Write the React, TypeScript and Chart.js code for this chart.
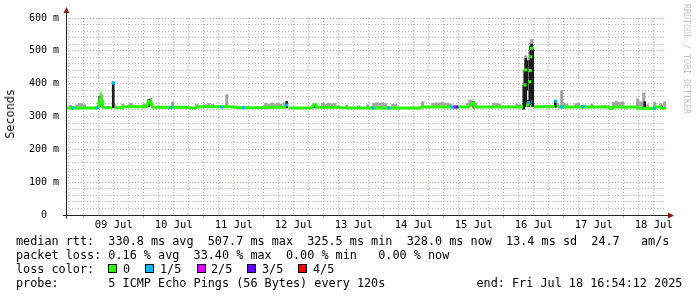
import React, { useEffect, useRef } from "react";
import { Chart, registerables } from "chart.js";

Chart.register(...registerables);

// x values: hours since 08 Jul 00:00
const dayLabels = ["09 Jul", "10 Jul", "11 Jul", "12 Jul", "13 Jul", "14 Jul", "15 Jul", "16 Jul", "17 Jul", "18 Jul"];

const medianHours = [17.2, 19.6, 29.2, 30.0, 30.4, 30.8, 31.2, 31.6, 35.2, 35.6, 36.4, 39.6, 40.0, 49.2, 49.6, 50.0, 50.8, 51.2, 51.6, 66.0, 66.4, 68.8, 69.2, 76.4, 85.2, 85.6, 96.4, 96.8, 104.8, 105.2, 106.0, 115.2, 116.0, 116.8, 117.2, 126.8, 127.2, 136.4, 158.8, 159.2, 178.0, 178.8, 179.6, 180.0, 180.4, 199.6, 200.0, 204.0, 212.4, 212.8, 213.6, 234.4, 234.8, 235.6, 236.0, 240.4, 240.8, 241.2, 245.2, 245.6, 249.2, 250.0, 252.4, 252.8, 254.8, 255.2, 256.8];
const medianMs = [326, 326, 326, 330, 345, 358, 340, 328, 327, null, 327, 327, 330, 330, 340, 347, 345, 333, 328, 328, 326, 326, 330, 330, 329, 327, 327, 328, 328, null, 326, 326, 336, 336, 328, 328, 327, 326, 326, 329, 329, 335, 341, 341, 329, 329, null, 330, 330, null, 329, 329, 324, 324, 329, 329, 326, 329, 329, 325, 325, 324, 324, 329, 329, 325, 325];

const lossHours = [19.6, 29.2, 35.8, 58.8, 79.2, 88.0, 105.2, 139.6, 146.0, 171.2, 172.4, 173.2, 202.0, 212.8, 215.2, 223.6, 252.4, 200.5, 200.8, 201.6, 202.4, 202.6, 202.8, 203.1];
const lossMs = [326, 326, 402, 328, 329, 327, 335, 326, 326, 329, 329, 329, 342, 347, 329, 330, 324, 396, 442, 335, 406, 440, 482, 508];
const lossLevel = [1, 1, 1, 1, 1, 1, 1, 1, 1, 1, 2, 3, 1, 1, 1, 1, 1, 0, 0, 0, 0, 0, 0, 0];

const darkHours = [30.4, 30.8, 35.8, 50.0, 50.4, 105.2, 116.4, 180.0, 200.0, 200.4, 200.8, 201.2, 201.6, 202.0, 202.4, 202.8, 203.2, 203.6, 212.6, 223.6, 248.4, 255.2];
const darkLow = [330, 335, 327, 330, 335, 327, 326, 326, 322, 330, 345, 380, 330, 330, 335, 350, 380, 330, 328, 326, 325, 325];
const darkHigh = [362, 360, 405, 352, 350, 346, 337, 345, 396, 440, 478, 470, 350, 345, 470, 515, 520, 505, 347, 334, 345, 332];

const smokeHours = [18.8, 21.2, 22.4, 23.2, 24.4, 30.0, 31.2, 31.6, 36.4, 39.6, 42.4, 43.2, 48.0, 48.8, 50.8, 59.6, 69.2, 72.4, 74.0, 75.6, 81.2, 96.8, 98.0, 99.2, 100.4, 101.6, 102.8, 104.4, 119.6, 120.8, 122.0, 123.2, 124.4, 129.2, 134.0, 137.6, 140.0, 141.2, 142.4, 143.6, 144.8, 147.6, 148.8, 159.6, 163.6, 164.8, 166.0, 167.2, 168.4, 169.6, 170.8, 177.6, 178.4, 179.2, 180.8, 188.0, 189.2, 190.4, 194.0, 197.2, 198.4, 200.8, 202.4, 202.8, 203.2, 210.0, 213.6, 215.2, 216.0, 217.2, 220.8, 222.0, 224.4, 227.2, 230.8, 232.4, 236.0, 237.2, 238.4, 239.6, 245.6, 246.8, 248.0, 249.6, 252.4, 254.8, 256.4];
const smokeLow = [328, 328, 328, 328, 328, 328, 330, 328, 328, 328, 330, 330, 330, 330, 340, 328, 330, 330, 330, 330, 329, 328, 328, 328, 328, 328, 328, 328, 328, 328, 328, 328, 328, 327, 327, 326, 326, 326, 326, 326, 326, 326, 326, 329, 329, 329, 329, 329, 329, 329, 329, 329, 335, 338, 329, 329, 329, 329, 329, 329, 329, 440, 440, 500, 500, 330, 329, 329, 329, 329, 329, 329, 329, 329, 329, 329, 329, 329, 329, 329, 325, 325, 325, 325, 324, 325, 325];
const smokeHigh = [334, 336, 340, 339, 336, 345, 365, 348, 336, 338, 338, 340, 338, 337, 356, 345, 338, 336, 340, 337, 367, 340, 338, 341, 339, 340, 338, 342, 340, 338, 341, 339, 340, 335, 333, 336, 340, 342, 341, 342, 339, 337, 338, 345, 340, 342, 341, 343, 340, 341, 338, 340, 350, 350, 340, 341, 340, 338, 334, 338, 336, 485, 500, 525, 535, 335, 340, 379, 340, 338, 339, 340, 335, 338, 333, 334, 344, 346, 343, 345, 354, 345, 372, 336, 344, 340, 345];

const lossColors = ["#26ff00", "#00b8ff", "#dd00ff", "#5e00ff", "#ff0000"];
const lossLabels = ["0", "1/5", "2/5", "3/5", "4/5"];

const statLines = [
  "median rtt:  330.8 ms avg  507.7 ms max  325.5 ms min  328.0 ms now  13.4 ms sd  24.7   am/s",
  "packet loss: 0.16 % avg  33.40 % max  0.00 % min   0.00 % now",
  "loss color:",
  "probe:       5 ICMP Echo Pings (56 Bytes) every 120s",
];
const endText = "end: Fri Jul 18 16:54:12 2025";

const MONO = '"DejaVu Sans Mono", monospace';

const axesPlugin = {
  id: "rrdAxes",
  afterDraw(chart: any) {
    const { ctx, chartArea } = chart;
    const { left, right, top, bottom } = chartArea;
    const lx = Math.round(left) + 0.5;
    const by = Math.round(bottom) + 0.5;
    ctx.save();
    ctx.strokeStyle = "#222222";
    ctx.lineWidth = 1;
    ctx.beginPath();
    ctx.moveTo(lx, by + 3);
    ctx.lineTo(lx, top - 6);
    ctx.moveTo(left - 3, by);
    ctx.lineTo(right + 3, by);
    ctx.stroke();
    ctx.fillStyle = "#8f1a1a";
    ctx.beginPath();
    ctx.moveTo(lx - 3, top - 5);
    ctx.lineTo(lx + 3, top - 5);
    ctx.lineTo(lx, top - 11);
    ctx.closePath();
    ctx.fill();
    ctx.beginPath();
    ctx.moveTo(right + 2, by - 3);
    ctx.lineTo(right + 2, by + 3);
    ctx.lineTo(right + 8, by);
    ctx.closePath();
    ctx.fill();
    ctx.restore();
  },
};

export default function App() {
  const ref = useRef<HTMLCanvasElement>(null);

  useEffect(() => {
    const median = medianHours.map((h, i) => ({ x: h, y: medianMs[i] }));
    const loss = lossHours.map((h, i) => ({ x: h, y: lossMs[i] }));
    const dark = darkHours.map((h, i) => ({ x: h, y: [darkLow[i], darkHigh[i]] }));
    const smoke = smokeHours.map((h, i) => ({ x: h, y: [smokeLow[i], smokeHigh[i]] }));

    const xTicks: number[] = [];
    for (let h = 18; h <= 252; h += 6) xTicks.push(h);
    const yTicks: number[] = [];
    for (let v = 0; v <= 600; v += 20) yTicks.push(v);

    const majorGrid = "rgba(225,110,110,0.75)";
    const minorGrid = "rgba(160,160,160,0.75)";

    const chart = new Chart(ref.current as HTMLCanvasElement, {
      type: "line",
      data: {
        datasets: [
          {
            type: "scatter",
            data: loss,
            pointStyle: "rect",
            pointRadius: 2.2,
            pointBorderWidth: 0,
            pointBackgroundColor: lossLevel.map((l) => lossColors[l]),
            order: 0,
          } as any,
          {
            type: "line",
            data: median,
            borderColor: lossColors[0],
            borderWidth: 3,
            pointRadius: 0,
            spanGaps: false,
            tension: 0,
            order: 1,
          } as any,
          {
            type: "bar",
            data: dark,
            backgroundColor: "#1c1c1c",
            barThickness: 2,
            grouped: false,
            order: 2,
          } as any,
          {
            type: "bar",
            data: smoke,
            backgroundColor: "#a4a4a4",
            barThickness: 2.5,
            grouped: false,
            order: 3,
          } as any,
        ],
      },
      options: {
        responsive: false,
        animation: false,
        events: [],
        layout: { padding: { left: 0, top: 18, right: 31, bottom: 62 } },
        plugins: { legend: { display: false }, tooltip: { enabled: false } },
        scales: {
          x: {
            type: "linear",
            min: 16.9,
            max: 256.9,
            offset: false,
            afterBuildTicks: (s: any) => {
              s.ticks = xTicks.map((v) => ({ value: v }));
            },
            afterFit: (s: any) => {
              s.height = 20;
            },
            grid: {
              offset: false,
              lineWidth: 1,
              color: (c: any) => (c.tick && c.tick.value % 24 === 0 ? majorGrid : minorGrid),
              drawTicks: true,
              tickLength: 3,
              tickColor: (c: any) => (c.tick && c.tick.value % 24 === 0 ? majorGrid : "rgba(0,0,0,0)"),
            },
            border: { display: false, dash: [1, 2] },
            ticks: {
              autoSkip: false,
              maxRotation: 0,
              minRotation: 0,
              padding: 1,
              color: "#000",
              font: { family: MONO, size: 10.5 },
              callback: (v: any) => {
                const n = Number(v);
                if ((n - 12) % 24 === 0) {
                  const idx = (n - 36) / 24;
                  return dayLabels[idx] ?? "";
                }
                return "";
              },
            },
          },
          y: {
            type: "linear",
            min: 0,
            max: 600,
            afterBuildTicks: (s: any) => {
              s.ticks = yTicks.map((v) => ({ value: v }));
            },
            afterFit: (s: any) => {
              s.width = 66;
            },
            grid: {
              lineWidth: 1,
              color: (c: any) => (c.tick && c.tick.value % 100 === 0 ? majorGrid : minorGrid),
              drawTicks: false,
            },
            border: { display: false, dash: [1, 2] },
            ticks: {
              autoSkip: false,
              padding: 7,
              color: "#000",
              font: { family: MONO, size: 10 },
              callback: (v: any) => {
                const n = Number(v);
                if (n % 100 !== 0) return "";
                return n === 0 ? "0  " : `${n} m`;
              },
            },
          },
        },
      },
      plugins: [axesPlugin],
    } as any);
    return () => chart.destroy();
  }, []);

  const textStyle: React.CSSProperties = {
    position: "absolute",
    fontFamily: MONO,
    fontSize: "11.8px",
    lineHeight: "14px",
    color: "#000",
    whiteSpace: "pre",
    margin: 0,
  };
  const rowTops = [234, 248, 262, 276];
  const squareLefts = [108, 145, 197, 247, 298];
  const labelLefts = [123, 160, 211, 262, 313];

  return (
    <div style={{ position: "fixed", left: 0, top: 0, width: 697, height: 297, background: "#fff", overflow: "hidden" }}>
      <canvas ref={ref} width={697} height={297} style={{ position: "absolute", left: 0, top: 0, width: 697, height: 297 }} />
      <div
        style={{
          ...textStyle,
          left: 3,
          top: 89,
          writingMode: "vertical-rl",
          transform: "rotate(180deg)",
        }}
      >
        Seconds
      </div>
      <div
        style={{
          ...textStyle,
          left: 682,
          top: 4,
          fontSize: "8.3px",
          lineHeight: "10px",
          color: "#c4c4c4",
          writingMode: "vertical-rl",
        }}
      >
        RRDTOOL / TOBI OETIKER
      </div>
      {statLines.map((line, i) => (
        <div key={i} style={{ ...textStyle, left: 16, top: rowTops[i] }}>
          {line}
        </div>
      ))}
      {lossLabels.map((lab, i) => (
        <React.Fragment key={lab}>
          <div
            style={{
              position: "absolute",
              left: squareLefts[i],
              top: 264,
              width: 9,
              height: 9,
              boxSizing: "border-box",
              border: "1px solid #000",
              background: lossColors[i],
            }}
          />
          <div style={{ ...textStyle, left: labelLefts[i], top: rowTops[2] }}>{lab}</div>
        </React.Fragment>
      ))}
      <div style={{ ...textStyle, left: 476.5, top: rowTops[3] }}>{endText}</div>
    </div>
  );
}
